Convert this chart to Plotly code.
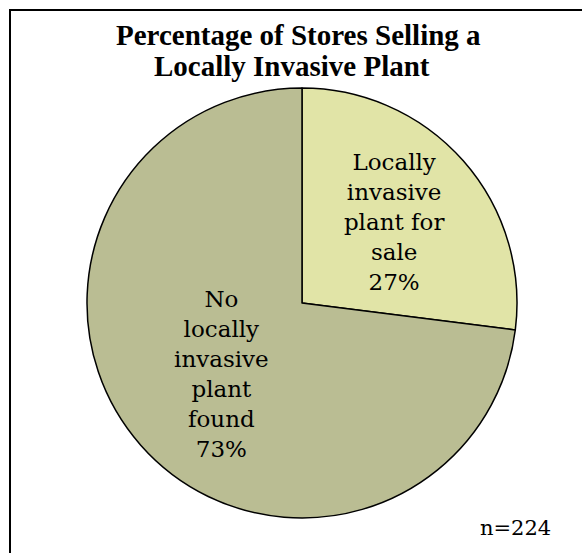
import plotly.graph_objects as go

labels = ["Locally<br>invasive<br>plant for<br>sale", "No<br>locally<br>invasive<br>plant<br>found"]
percent_values = [27, 73]
colors = ["#E1E4A7", "#BABD93"]
title_lines = ["Percentage of Stores Selling a", "Locally Invasive Plant"]
note_text = "n=224"

W, H = 582, 553
font_family = "DejaVu Serif, Liberation Serif, serif"
title_family = "Liberation Serif, DejaVu Serif, serif"

fig = go.Figure(go.Pie(
    labels=labels,
    values=percent_values,
    sort=False,
    direction="clockwise",
    rotation=0,
    marker=dict(colors=colors, line=dict(color="black", width=1.5)),
    texttemplate="%{label}<br>%{percent:.0%}",
    textposition="inside",
    insidetextorientation="horizontal",
    textfont=dict(family=font_family, size=23, color="black"),
    hoverinfo="skip",
    showlegend=False,
    domain=dict(x=[87 / W, 517 / W], y=[1 - 518 / H, 1 - 88 / H]),
))

title_ann = []
for i, (line, cx, cy) in enumerate(zip(title_lines, [298, 292], [35, 66])):
    title_ann.append(dict(
        text="<b>" + line + "</b>", x=cx / W, y=1 - cy / H, xref="paper", yref="paper",
        xanchor="center", yanchor="middle", showarrow=False,
        font=dict(family=title_family, size=29, color="black")))

fig.update_layout(
    width=W, height=H,
    margin=dict(l=0, r=0, t=0, b=0),
    paper_bgcolor="white",
    plot_bgcolor="white",
    font=dict(family=font_family, color="black"),
    uniformtext=dict(minsize=23, mode="show"),
    annotations=title_ann + [
        dict(text=note_text, x=515 / W, y=1 - 528 / H, xref="paper", yref="paper",
             xanchor="center", yanchor="middle", showarrow=False,
             font=dict(family=font_family, size=21, color="black")),
    ],
    shapes=[
        dict(type="rect", xref="paper", yref="paper",
             x0=10 / W, x1=1.05, y0=-0.05, y1=1 - 10 / H,
             line=dict(color="black", width=2), fillcolor="rgba(0,0,0,0)", layer="below"),
    ],
)

fig.write_html("out.html")
